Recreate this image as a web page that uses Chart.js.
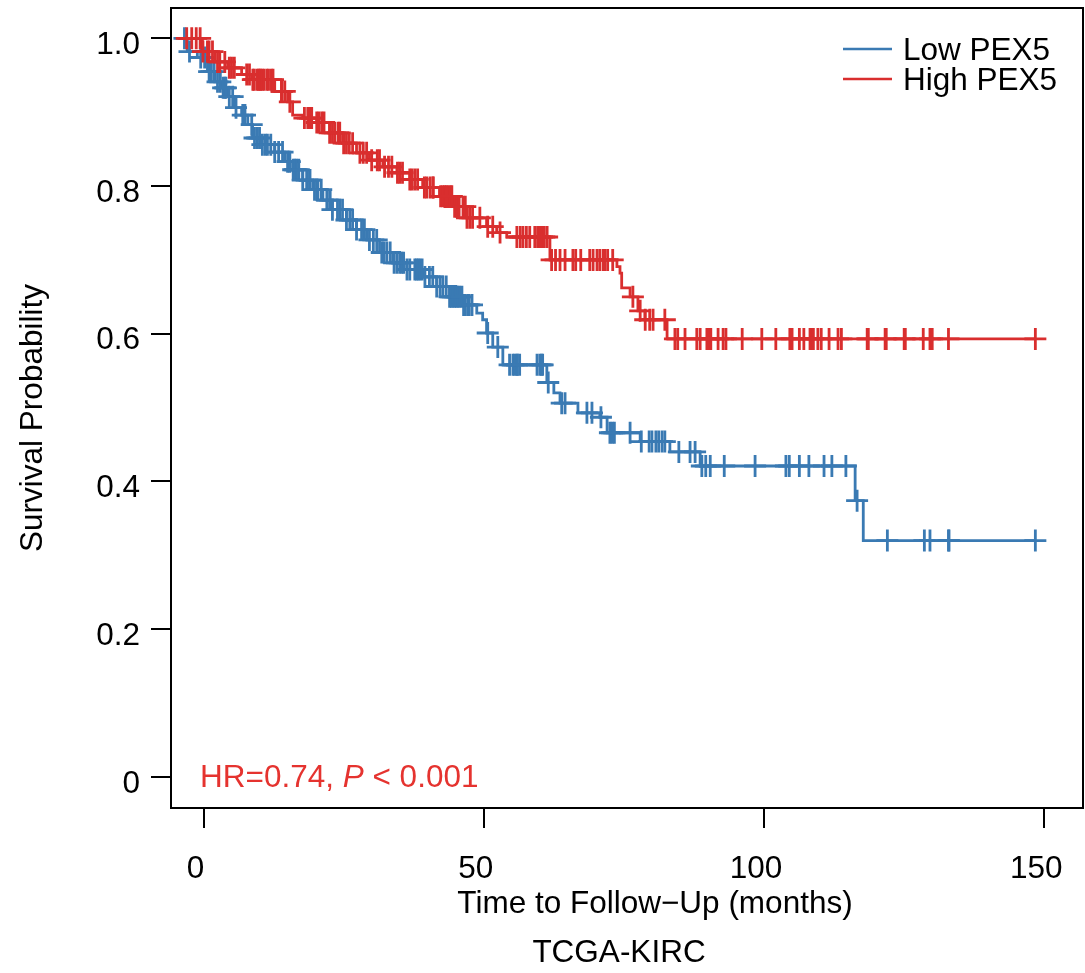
<!DOCTYPE html>
<html>
<head>
<meta charset="utf-8">
<script src="https://cdn.jsdelivr.net/npm/chart.js@4.4.1/dist/chart.umd.min.js"></script>
<style>
  html, body { margin: 0; padding: 0; background: #fff; }
  #wrap { width: 1085px; height: 973px; }
</style>
</head>
<body>
<div id="wrap"><canvas id="km" width="1085" height="973"></canvas></div>
<script>
// axis ticks
const xTicks = [0, 50, 100, 150];
const xTickLabels = ['0', '50', '100', '150'];
const yTicks = [0, 0.2, 0.4, 0.6, 0.8, 1.0];
const yTickLabels = ['0', '0.2', '0.4', '0.6', '0.8', '1.0'];

const groupNames = ['Low PEX5', 'High PEX5'];
const groupColors = ['#3a7ab3', '#d92e2e'];

// Low PEX5: step times (months) and survival after each step
const lowTimes = [-4.6, -2.9, -1.1, 0.7, 2.0, 3.2, 4.3, 5.5, 6.8, 7.9, 8.75, 10.4, 12.7, 14.5, 15.9, 17.7,
  19.5, 21.3, 23.0, 25.5, 27.3, 29.1, 31.4, 33.75, 36.25, 39.1, 41.6, 43.9, 46.25, 48.75, 49.8, 50.5,
  51.6, 53.4, 61.25, 62.5, 63.6, 66.8, 70.7, 72.0, 77.9, 83.2, 88.6, 116.25, 117.7];
const lowSurv = [1.0, 0.982, 0.974, 0.955, 0.941, 0.933, 0.921, 0.906, 0.896, 0.883, 0.865, 0.856, 0.846, 0.833, 0.822, 0.808,
  0.795, 0.781, 0.768, 0.754, 0.741, 0.727, 0.710, 0.696, 0.687, 0.677, 0.664, 0.650, 0.639, 0.628, 0.619, 0.601,
  0.582, 0.558, 0.534, 0.520, 0.506, 0.493, 0.487, 0.466, 0.454, 0.440, 0.421, 0.374, 0.320];
// Low PEX5: censored times
const lowCensor = [-3.4, -2.5, -0.5, 0.2, 1.0, 1.4, 1.9, 2.5, 3.0, 3.5, 3.8, 4.0, 4.6, 5.2, 5.8, 7.0, 7.4, 8.6,
  9.1, 9.6, 10.0, 10.5, 11.0, 11.4, 12.0, 12.7, 13.4, 14.1, 15.0, 15.4, 16.0, 16.3, 16.6, 17.0, 17.7, 18.4,
  18.9, 19.0, 19.8, 20.2, 20.4, 21.0, 22.0, 22.1, 22.6, 23.0, 23.9, 24.3, 24.8, 25.5, 26.1, 26.6, 27.3, 28.2,
  28.7, 29.6, 30.3, 30.9, 31.8, 32.2, 32.7, 33.3, 34.0, 34.5, 35.0, 35.4, 35.7, 36.3, 36.8, 37.7, 38.0, 38.3,
  38.6, 39.0, 39.5, 40.3, 40.9, 41.6, 42.2, 42.7, 43.3, 43.9, 44.2, 44.5, 44.8, 45.1, 45.4, 45.7, 46.1, 46.4,
  46.6, 47.1, 47.4, 47.9, 50.7, 52.5, 54.6, 55.2, 55.5, 55.9, 56.0, 56.4, 59.5, 60.0, 60.3, 60.5, 61.5, 63.9,
  64.5, 68.4, 69.3, 70.9, 72.5, 72.9, 73.3, 76.1, 78.1, 79.5, 80.0, 80.7, 81.2, 81.8, 82.3, 84.8, 86.8, 87.7,
  88.9, 89.6, 90.4, 92.9, 98.4, 103.9, 104.5, 106.3, 108.0, 110.7, 112.1, 114.6, 116.6, 122.0, 128.6, 129.6,
  132.9, 133.0, 148.4];

// High PEX5
const highTimes = [-4.6, -0.2, 2.0, 4.3, 6.8, 8.6, 12.7, 15.0, 15.9, 17.7, 20.2, 22.5, 24.8, 27.3, 29.6, 32.0,
  34.5, 36.8, 39.1, 42.1, 44.5, 47.0, 50.5, 52.3, 54.1, 61.8, 73.75, 74.3, 74.6, 76.1, 77.5, 78.75, 82.7];
const highSurv = [1.0, 0.982, 0.968, 0.960, 0.951, 0.944, 0.928, 0.914, 0.896, 0.892, 0.886, 0.872, 0.858, 0.845, 0.835, 0.826,
  0.818, 0.809, 0.798, 0.786, 0.772, 0.757, 0.745, 0.737, 0.731, 0.700, 0.691, 0.682, 0.662, 0.650, 0.631, 0.619, 0.593];
const highCensor = [-3.0, -2.1, -1.3, -0.6, -0.1, 0.7, 1.0, 1.6, 2.5, 2.9, 3.8, 4.6, 5.0, 5.5, 7.7, 8.2, 8.8,
  9.0, 9.5, 9.8, 10.0, 10.2, 10.5, 10.8, 11.3, 11.6, 12.1, 12.4, 13.9, 14.0, 14.5, 15.4, 18.0, 18.6, 19.0,
  19.3, 20.2, 20.6, 21.1, 21.5, 22.5, 23.0, 23.4, 24.0, 24.3, 25.0, 25.5, 26.0, 26.6, 27.9, 28.5, 29.1, 30.0,
  31.0, 31.4, 32.3, 33.0, 33.6, 34.6, 35.0, 35.5, 36.8, 37.2, 37.7, 38.2, 39.4, 39.8, 40.4, 40.9, 41.0, 42.3,
  42.7, 43.0, 43.3, 43.6, 44.0, 44.3, 44.8, 45.2, 45.6, 46.3, 46.7, 47.0, 47.5, 48.0, 49.3, 50.7, 51.6, 52.9,
  55.9, 56.5, 57.0, 57.6, 58.2, 59.1, 59.6, 60.0, 60.4, 60.8, 61.3, 62.1, 62.8, 63.6, 64.5, 65.9, 66.4, 67.3,
  68.9, 69.5, 70.2, 70.7, 71.3, 71.6, 72.1, 73.0, 76.6, 77.9, 78.8, 79.6, 80.2, 82.3, 84.1, 84.6, 85.9, 88.0,
  88.6, 89.8, 90.2, 90.5, 91.8, 92.7, 93.2, 96.1, 99.6, 102.1, 104.6, 105.0, 106.3, 107.1, 108.2, 108.6,
  108.8, 109.6, 110.2, 111.6, 113.2, 113.8, 118.4, 118.6, 121.6, 121.8, 125.0, 125.2, 128.4, 129.6, 130.0,
  132.9, 148.4];

const FONT = '"Liberation Sans", Arial, Helvetica, sans-serif';

// survival value of the step curve at time t
function survAt(times, surv, t) {
    let s = surv[0];
    for (let i = 0; i < times.length; i++) {
        if (times[i] <= t) s = surv[i];
    }
    return s;
}

function stepPoints(times, surv, censor) {
    const pts = times.map((t, i) => ({ x: t, y: surv[i] }));
    const last = censor[censor.length - 1];
    pts.push({ x: last, y: surv[surv.length - 1] });
    return pts;
}

function censorPoints(times, surv, censor) {
    return censor.map(t => ({ x: t, y: survAt(times, surv, t) }));
}

// box, titles, legend and HR text
const decorPlugin = {
    id: 'decor',
    afterDraw(chart) {
        const ctx = chart.ctx;
        const a = chart.chartArea;
        ctx.save();
        ctx.strokeStyle = '#000';
        ctx.lineWidth = 2;
        ctx.strokeRect(a.left, a.top, a.right - a.left, a.bottom - a.top);

        ctx.fillStyle = '#000';
        ctx.font = '31.5px ' + FONT;
        ctx.textBaseline = 'alphabetic';
        ctx.textAlign = 'center';
        ctx.fillText('Time to Follow\u2212Up (months)', 655, 913);
        ctx.fillText('TCGA-KIRC', 619, 962);

        ctx.save();
        ctx.translate(33, 418);
        ctx.rotate(-Math.PI / 2);
        ctx.textBaseline = 'middle';
        ctx.fillText('Survival Probability', 0, 0);
        ctx.restore();

        // legend
        ctx.textAlign = 'left';
        ctx.lineWidth = 2.5;
        groupNames.forEach((name, i) => {
            const y = 49 + i * 30;
            ctx.strokeStyle = groupColors[i];
            ctx.beginPath();
            ctx.moveTo(843, y);
            ctx.lineTo(892, y);
            ctx.stroke();
            ctx.fillStyle = '#000';
            ctx.fillText(name, 903, 60 + i * 30);
        });

        // HR annotation
        ctx.fillStyle = '#e5332f';
        let x = 200;
        const parts = [['HR=0.74, ', ''], ['P', 'italic '], [' < 0.001', '']];
        parts.forEach(p => {
            ctx.font = p[1] + '31.5px ' + FONT;
            ctx.fillText(p[0], x, 787);
            x += ctx.measureText(p[0]).width;
        });
        ctx.restore();
    }
};

const ctx = document.getElementById('km').getContext('2d');
new Chart(ctx, {
    type: 'line',
    data: {
        datasets: [
            {
                label: groupNames[0],
                data: stepPoints(lowTimes, lowSurv, lowCensor),
                borderColor: groupColors[0],
                borderWidth: 2.8,
                stepped: 'before',
                pointRadius: 0,
                fill: false,
                order: 3
            },
            {
                type: 'scatter',
                label: groupNames[0] + ' censored',
                data: censorPoints(lowTimes, lowSurv, lowCensor),
                borderColor: groupColors[0],
                backgroundColor: groupColors[0],
                pointStyle: 'cross',
                pointRadius: 11,
                pointBorderWidth: 2.8,
                showLine: false,
                order: 2
            },
            {
                label: groupNames[1],
                data: stepPoints(highTimes, highSurv, highCensor),
                borderColor: groupColors[1],
                borderWidth: 2.8,
                stepped: 'before',
                pointRadius: 0,
                fill: false,
                order: 1
            },
            {
                type: 'scatter',
                label: groupNames[1] + ' censored',
                data: censorPoints(highTimes, highSurv, highCensor),
                borderColor: groupColors[1],
                backgroundColor: groupColors[1],
                pointStyle: 'cross',
                pointRadius: 11,
                pointBorderWidth: 2.8,
                showLine: false,
                order: 0
            }
        ]
    },
    options: {
        responsive: false,
        animation: false,
        devicePixelRatio: 1,
        layout: { autoPadding: false, padding: { top: 8, right: 2, left: 0, bottom: 0 } },
        plugins: {
            legend: { display: false },
            tooltip: { enabled: false }
        },
        scales: {
            x: {
                type: 'linear',
                min: -5.8,
                max: 156.9,
                afterBuildTicks: scale => { scale.ticks = xTicks.map(v => ({ value: v })); },
                afterFit: scale => { scale.height = 165; scale.paddingLeft = 0; scale.paddingRight = 0; },
                border: { display: false },
                grid: { drawOnChartArea: false, drawTicks: true, tickLength: 20, color: '#000', lineWidth: 2 },
                ticks: {
                    color: '#000',
                    font: { family: FONT, size: 31.5 },
                    padding: 22,
                    labelOffset: -8,
                    maxRotation: 0,
                    callback: (v, i) => xTickLabels[i]
                }
            },
            y: {
                type: 'linear',
                min: -0.042,
                max: 1.041,
                afterBuildTicks: scale => { scale.ticks = yTicks.map(v => ({ value: v })); },
                afterFit: scale => { scale.width = 171; scale.paddingTop = 0; scale.paddingBottom = 0; },
                border: { display: false },
                grid: { drawOnChartArea: false, drawTicks: true, tickLength: 20, color: '#000', lineWidth: 2 },
                ticks: {
                    color: '#000',
                    font: { family: FONT, size: 31.5 },
                    padding: 11,
                    labelOffset: 7,
                    callback: (v, i) => yTickLabels[i]
                }
            }
        }
    },
    plugins: [decorPlugin]
});
</script>
</body>
</html>
